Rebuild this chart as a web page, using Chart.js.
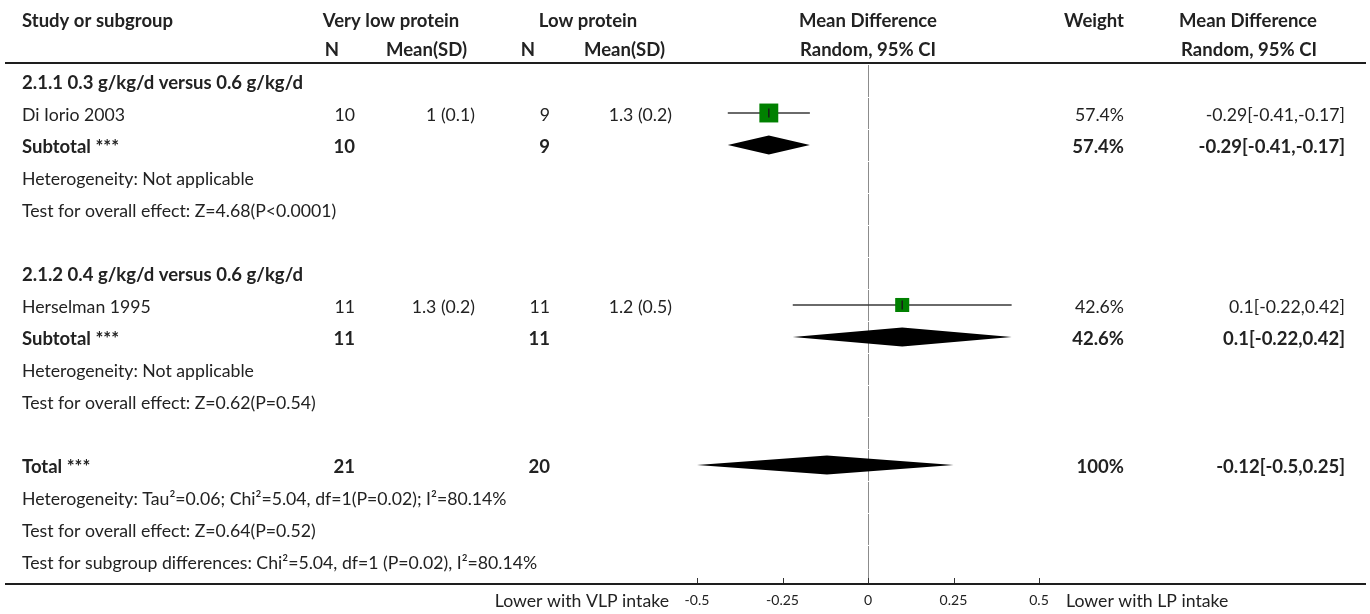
<!DOCTYPE html>
<html>
<head>
<meta charset="utf-8">
<script src="https://cdn.jsdelivr.net/npm/chart.js@4.4.1/dist/chart.umd.min.js"></script>
<style>
  html, body { margin: 0; padding: 0; background: #fff; }
  #wrap { position: relative; width: 1370px; height: 614px; }
  canvas { display: block; }
</style>
</head>
<body>
<div id="wrap"><canvas id="c" width="1370" height="614"></canvas></div>
<script>
// ---------------- DATA ----------------
const headerGroups = ['Very low protein', 'Low protein'];
const rowLabels = [
  '2.1.1 0.3 g/kg/d versus 0.6 g/kg/d',
  'Di Iorio 2003',
  'Subtotal ***',
  'Heterogeneity: Not applicable',
  'Test for overall effect: Z=4.68(P<0.0001)',
  '',
  '2.1.2 0.4 g/kg/d versus 0.6 g/kg/d',
  'Herselman 1995',
  'Subtotal ***',
  'Heterogeneity: Not applicable',
  'Test for overall effect: Z=0.62(P=0.54)',
  '',
  'Total ***',
  'Heterogeneity: Tau\u00b2=0.06; Chi\u00b2=5.04, df=1(P=0.02); I\u00b2=80.14%',
  'Test for overall effect: Z=0.64(P=0.52)',
  'Test for subgroup differences: Chi\u00b2=5.04, df=1 (P=0.02), I\u00b2=80.14%'
];
const boldRows = [0, 2, 6, 8, 12];
const vlpN      = ['', '10', '10', '', '', '', '', '11', '11', '', '', '', '21', '', '', ''];
const vlpMeanSD = ['', '1 (0.1)', '', '', '', '', '', '1.3 (0.2)', '', '', '', '', '', '', '', ''];
const lpN       = ['', '9', '9', '', '', '', '', '11', '11', '', '', '', '20', '', '', ''];
const lpMeanSD  = ['', '1.3 (0.2)', '', '', '', '', '', '1.2 (0.5)', '', '', '', '', '', '', '', ''];
const weightTxt = ['', '57.4%', '57.4%', '', '', '', '', '42.6%', '42.6%', '', '', '', '100%', '', '', ''];
const mdTxt     = ['', '-0.29[-0.41,-0.17]', '-0.29[-0.41,-0.17]', '', '', '', '', '0.1[-0.22,0.42]', '0.1[-0.22,0.42]', '', '', '', '-0.12[-0.5,0.25]', '', '', ''];

// individual studies
const studyRows = [1, 7];
const studyEst  = [-0.29, 0.1];
const studyLo   = [-0.41, -0.22];
const studyHi   = [-0.17, 0.42];
const studyWeight = [57.4, 42.6];

// pooled (diamonds)
const poolRows = [2, 8, 12];
const poolEst  = [-0.29, 0.1, -0.12];
const poolLo   = [-0.41, -0.22, -0.5];
const poolHi   = [-0.17, 0.42, 0.25];

// axis
const tickValues = [-0.5, -0.25, 0, 0.25, 0.5];
const tickLabels = ['-0.5', '-0.25', '0', '0.25', '0.5'];
const axisLeftLabel = 'Lower with VLP intake';
const axisRightLabel = 'Lower with LP intake';

// ---------------- STYLE / LAYOUT ----------------
const FAMILY = 'Lato, "Noto Sans", sans-serif';
const TXT = '#222';
let REG = 15, BOLD = 15, TICK = 14;

function fitSizes() {
  const m = document.createElement('canvas').getContext('2d');
  m.font = '16px ' + FAMILY;
  REG = 16 * 232 / m.measureText('Heterogeneity: Not applicable').width;
  m.font = 'bold 16px ' + FAMILY;
  BOLD = 16 * 151 / m.measureText('Study or subgroup').width;
  m.font = '16px ' + FAMILY;
  TICK = 16 * 33 / m.measureText('-0.25').width;
}

const forestPlugin = {
  id: 'forest',
  beforeDatasetsDraw(chart) {
    const { ctx, scales: { x, y }, chartArea } = chart;
    const x0 = Math.round(x.getPixelForValue(0)) + 0.5;
    ctx.save();
    // zero line, drawn per row with tiny gaps
    ctx.strokeStyle = '#8c8c8c';
    ctx.lineWidth = 1;
    for (let r = 0; r < rowLabels.length; r++) {
      const yt = r === 0 ? chartArea.top + 2 : y.getPixelForValue(r - 0.5) + 1;
      const yb = r === rowLabels.length - 1 ? chartArea.bottom : y.getPixelForValue(r + 0.5);
      ctx.beginPath();
      ctx.moveTo(x0, yt);
      ctx.lineTo(x0, yb);
      ctx.stroke();
    }
    // diamonds
    ctx.fillStyle = '#000';
    const hh = 9.5;
    for (let i = 0; i < poolRows.length; i++) {
      const yc = y.getPixelForValue(poolRows[i]);
      const xl = x.getPixelForValue(poolLo[i]);
      const xc = x.getPixelForValue(poolEst[i]);
      const xr = x.getPixelForValue(poolHi[i]);
      ctx.beginPath();
      ctx.moveTo(xl, yc);
      ctx.lineTo(xc, yc - hh);
      ctx.lineTo(xr, yc);
      ctx.lineTo(xc, yc + hh);
      ctx.closePath();
      ctx.fill();
    }
    ctx.restore();
  },
  afterDraw(chart) {
    const { ctx, scales: { x, y }, chartArea } = chart;
    ctx.save();
    ctx.fillStyle = TXT;
    ctx.textBaseline = 'middle';
    const reg = REG.toFixed(2) + 'px ' + FAMILY;
    const bold = 'bold ' + BOLD.toFixed(2) + 'px ' + FAMILY;
    const put = (t, px, py, align, isBold) => {
      if (!t) return;
      ctx.font = isBold ? bold : reg;
      ctx.textAlign = align;
      ctx.fillText(t, px, py);
    };
    const xZero = x.getPixelForValue(0);
    // headers
    const h1 = 21, h2 = 50;
    put('Study or subgroup', 22, h1, 'left', true);
    put(headerGroups[0], 391, h1, 'center', true);
    put(headerGroups[1], 588, h1, 'center', true);
    put('N', 332, h2, 'center', true);
    put('Mean(SD)', 467, h2, 'right', true);
    put('N', 528, h2, 'center', true);
    put('Mean(SD)', 665, h2, 'right', true);
    put('Mean Difference', xZero, h1, 'center', true);
    put('Random, 95% CI', xZero, h2, 'center', true);
    put('Weight', 1124, h1, 'right', true);
    put('Mean Difference', 1317, h1, 'right', true);
    put('Random, 95% CI', 1317, h2, 'right', true);

    // body rows
    for (let r = 0; r < rowLabels.length; r++) {
      const yc = y.getPixelForValue(r) + 2;
      const b = boldRows.includes(r);
      put(rowLabels[r], 22, yc, 'left', b);
      put(vlpN[r], 355, yc, 'right', b);
      put(vlpMeanSD[r], 475, yc, 'right', b);
      put(lpN[r], 550, yc, 'right', b);
      put(lpMeanSD[r], 672, yc, 'right', b);
      put(weightTxt[r], 1124, yc, 'right', b);
      put(mdTxt[r], 1345, yc, 'right', b);
    }

    // horizontal rules
    ctx.fillStyle = '#1e1e1e';
    ctx.fillRect(5, 62, 1361, 2);
    ctx.fillRect(5, Math.round(chartArea.bottom) - 1, 1361, 2);

    // tick marks (pointing up)
    ctx.strokeStyle = '#333';
    ctx.lineWidth = 1;
    tickValues.forEach(v => {
      const px = Math.round(x.getPixelForValue(v)) + 0.5;
      ctx.beginPath();
      ctx.moveTo(px, chartArea.bottom - 1);
      ctx.lineTo(px, chartArea.bottom - 6);
      ctx.stroke();
    });

    // axis side labels
    ctx.fillStyle = TXT;
    const ya = chartArea.bottom + 17;
    put(axisLeftLabel, x.getPixelForValue(-0.5) - 28, ya, 'right', false);
    put(axisRightLabel, x.getPixelForValue(0.5) + 27, ya, 'left', false);
    ctx.restore();
  }
};

function build() {
  fitSizes();
  const ciData = [];
  studyRows.forEach((r, i) => {
    ciData.push({ x: studyLo[i], y: r }, { x: studyHi[i], y: r }, { x: null, y: null });
  });
  const ptData = studyRows.map((r, i) => ({ x: studyEst[i], y: r }));

  new Chart(document.getElementById('c'), {
    type: 'scatter',
    data: {
      datasets: [
        {
          type: 'line', data: ciData, showLine: true, spanGaps: false,
          borderColor: '#3a3a3a', borderWidth: 1.5, pointRadius: 0, fill: false, order: 3
        },
        {
          data: ptData, pointStyle: 'rect',
          pointRadius: c => studyWeight[c.dataIndex] * 0.233,
          backgroundColor: '#008000', borderWidth: 0, order: 2
        },
        {
          data: ptData, pointStyle: 'line', rotation: 90, pointRadius: 4.5,
          borderColor: '#1a1a1a', borderWidth: 1.5, order: 1
        }
      ]
    },
    options: {
      responsive: false, animation: false, devicePixelRatio: 1,
      layout: { padding: { left: 697, right: 331, top: 63, bottom: 0 } },
      scales: {
        x: {
          type: 'linear', position: 'bottom', min: -0.5, max: 0.5,
          afterBuildTicks: s => { s.ticks = tickValues.map(v => ({ value: v })); },
          afterFit: s => { s.height = 30; },
          grid: { display: false, drawTicks: false },
          border: { display: false },
          ticks: {
            autoSkip: false, maxRotation: 0, padding: 8, color: TXT,
            font: { family: FAMILY, size: TICK },
            callback: (v, i) => tickLabels[i]
          }
        },
        y: { type: 'linear', display: false, reverse: true, min: -0.5625, max: 15.72 }
      },
      plugins: { legend: { display: false }, tooltip: { enabled: false } }
    },
    plugins: [forestPlugin]
  });
}

Promise.all([
  document.fonts.load('16px Lato'),
  document.fonts.load('bold 16px Lato')
]).then(build, build);
</script>
</body>
</html>
